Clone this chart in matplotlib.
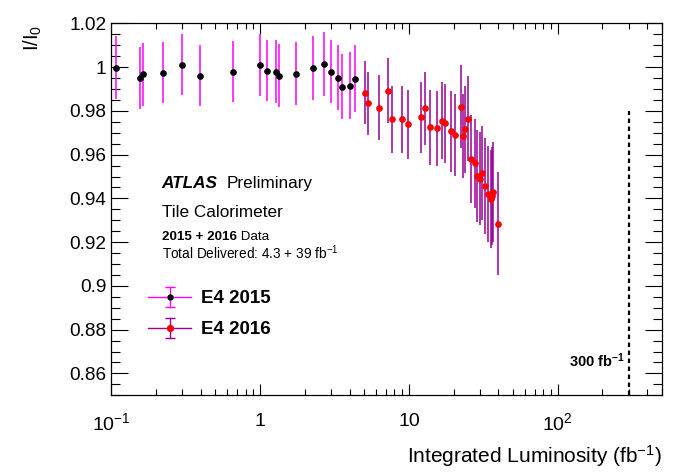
import numpy as np
import matplotlib
matplotlib.use("Agg")
import matplotlib.pyplot as plt
from matplotlib.ticker import MultipleLocator, NullFormatter, LogLocator
from matplotlib.legend_handler import HandlerBase
from matplotlib.lines import Line2D

plt.rcParams["font.family"] = ["Liberation Sans", "DejaVu Sans"]
plt.rcParams["mathtext.fontset"] = "custom"
plt.rcParams["mathtext.rm"] = "Liberation Sans"
plt.rcParams["mathtext.it"] = "Liberation Sans:italic"
plt.rcParams["mathtext.bf"] = "Liberation Sans:bold"

# Data

lumi_2015 = [0.107, 0.155, 0.163, 0.222, 0.297, 0.393, 0.654, 0.994, 1.108, 1.273,
             1.342, 1.735, 2.257, 2.676, 2.982, 3.323, 3.534, 4.0, 4.323]
resp_2015 = [0.9997, 0.9952, 0.9967, 0.9974, 1.0011, 0.9961, 0.9979, 1.0011, 0.9984, 0.9979,
             0.9961, 0.9970, 0.9997, 1.0015, 0.9979, 0.9952, 0.9911, 0.9915, 0.9947]
err_2015 = [0.0143, 0.0142, 0.0143, 0.0140, 0.0140, 0.0140, 0.0140, 0.0142, 0.0140, 0.0143,
            0.0145, 0.0143, 0.0145, 0.0145, 0.0145, 0.0147, 0.0147, 0.0152, 0.0152]

lumi_2016 = [5.05, 5.29, 6.27, 7.20, 7.66, 8.94, 9.82, 12.0, 12.77, 13.8,
             15.38, 16.61, 17.40, 19.1, 20.3, 22.3, 23.0, 23.7, 24.85, 26.0,
             27.7, 28.55, 29.9, 30.85, 32.3, 33.86, 35.5, 36.0, 36.6, 39.5]
resp_2016 = [0.9884, 0.9834, 0.9815, 0.9893, 0.9761, 0.9761, 0.9738, 0.977, 0.9811, 0.9725,
             0.972, 0.9756, 0.9744, 0.9706, 0.9688, 0.982, 0.9684, 0.9715, 0.9765, 0.9579,
             0.9561, 0.9502, 0.949, 0.9515, 0.9456, 0.942, 0.9397, 0.9409, 0.9429, 0.9284]
err_2016 = [0.0145, 0.0145, 0.0149, 0.0149, 0.0154, 0.0154, 0.0158, 0.0163, 0.0165, 0.0172,
            0.0172, 0.0177, 0.018, 0.0184, 0.0187, 0.0189, 0.0193, 0.0198, 0.0196, 0.0202,
            0.0204, 0.0209, 0.0212, 0.0214, 0.022, 0.022, 0.0226, 0.0224, 0.023, 0.0236]

target_lumi = 300
target_top = 0.98

xticks = [0.1, 1, 10, 100]
xtick_labels = ["$10^{-1}$", "1", "10", "$10^{2}$"]
yticks = [0.86, 0.88, 0.90, 0.92, 0.94, 0.96, 0.98, 1.00, 1.02]
ytick_labels = ["0.86", "0.88", "0.9", "0.92", "0.94", "0.96", "0.98", "1", "1.02"]


# ROOT style legend marker: horizontal line plus vertical error bar with caps
class RootErrHandler(HandlerBase):
    def __init__(self, bar_color, dot_color, dot_size):
        super().__init__()
        self.bar_color = bar_color
        self.dot_color = dot_color
        self.dot_size = dot_size

    def create_artists(self, legend, orig_handle, xdescent, ydescent,
                       width, height, fontsize, trans):
        xc = 0.5 * width - xdescent
        yc = 0.5 * height - ydescent
        half = 7.2
        hline = Line2D([-xdescent, width - xdescent], [yc, yc],
                       color=self.bar_color, lw=1, transform=trans)
        vline = Line2D([xc, xc], [yc - half, yc + half], color=self.bar_color,
                       lw=1, marker="_", markersize=7, markeredgewidth=1,
                       transform=trans)
        dot = Line2D([xc], [yc], marker="o", linestyle="none", color=self.dot_color,
                     markersize=self.dot_size, transform=trans)
        return [hline, vline, dot]


fig = plt.figure(figsize=(6.96, 4.72), dpi=100)
ax = fig.add_axes([0.16, 0.1625, 0.7907, 0.788])

e15 = ax.errorbar(lumi_2015, resp_2015, yerr=err_2015, fmt="o", color="black",
                  ecolor="#ff00ff", elinewidth=1.1, markersize=3.8, capsize=0)
e16 = ax.errorbar(lumi_2016, resp_2016, yerr=err_2016, fmt="o", color="#ff0000",
                  ecolor="#990099", elinewidth=1.1, markersize=3.8, capsize=0)

# 300 fb-1 marker
ax.vlines(target_lumi, 0.85, target_top, colors="black", linestyles=(0, (2, 1.6)), lw=1.6)
ax.text(282, 0.863, r"300 fb$^{\mathbf{-1}}$", ha="right", va="baseline",
        fontsize=10.5, fontweight="bold")

ax.set_xscale("log")
ax.set_xlim(0.1, 500)
ax.set_ylim(0.85, 1.02)
ax.set_xticks(xticks, xtick_labels)
ax.xaxis.set_minor_locator(LogLocator(base=10, subs=np.arange(2, 10)))
ax.xaxis.set_minor_formatter(NullFormatter())
ax.set_yticks(yticks, ytick_labels)
ax.yaxis.set_minor_locator(MultipleLocator(0.005))

ax.tick_params(which="both", direction="in", top=True, right=True, width=0.8)
ax.tick_params(axis="x", which="major", length=8, pad=12.5, labelsize=14)
ax.tick_params(axis="x", which="minor", length=4.3)
ax.tick_params(axis="y", which="major", length=12, pad=3.5, labelsize=13.7)
ax.tick_params(axis="y", which="minor", length=6.5)
for s in ax.spines.values():
    s.set_linewidth(0.9)

ax.set_xlabel("Integrated Luminosity (fb$^{-1}$)", loc="right", fontsize=15, labelpad=6)
ax.set_ylabel("I/I$_{0}$", loc="top", fontsize=14.5)
ax.yaxis.set_label_coords(-0.122, 0.995)

# Labels
ax.text(0.0916, 0.558, "ATLAS", transform=ax.transAxes, fontsize=12.3,
        fontweight="bold", fontstyle="italic")
ax.text(0.2097, 0.558, "Preliminary", transform=ax.transAxes, fontsize=12.3)
ax.text(0.0916, 0.4785, "Tile Calorimeter", transform=ax.transAxes, fontsize=12.3)
t_years = ax.text(0.0916, 0.4175, "2015 + 2016", transform=ax.transAxes, fontsize=9.6,
                  fontweight="bold", va="baseline")
ax.annotate(" Data", xy=(1, 0), xycoords=t_years, va="bottom", fontsize=9.6)
ax.text(0.0916, 0.3664, "Total Delivered: 4.3 + 39 fb$^{-1}$", transform=ax.transAxes,
        fontsize=9.8)

leg = ax.legend([e15, e16], ["E4 2015", "E4 2016"], loc="upper left",
                bbox_to_anchor=(0.0667, 0.2826), frameon=False, borderpad=0,
                borderaxespad=0, handlelength=2.3, handletextpad=0.53,
                labelspacing=0.73, prop={"size": 13.5, "weight": "bold"},
                handler_map={e15: RootErrHandler("#ff00ff", "black", 3.5),
                             e16: RootErrHandler("#990099", "#ff0000", 4.2)})

fig.savefig("out.png", dpi=100)
